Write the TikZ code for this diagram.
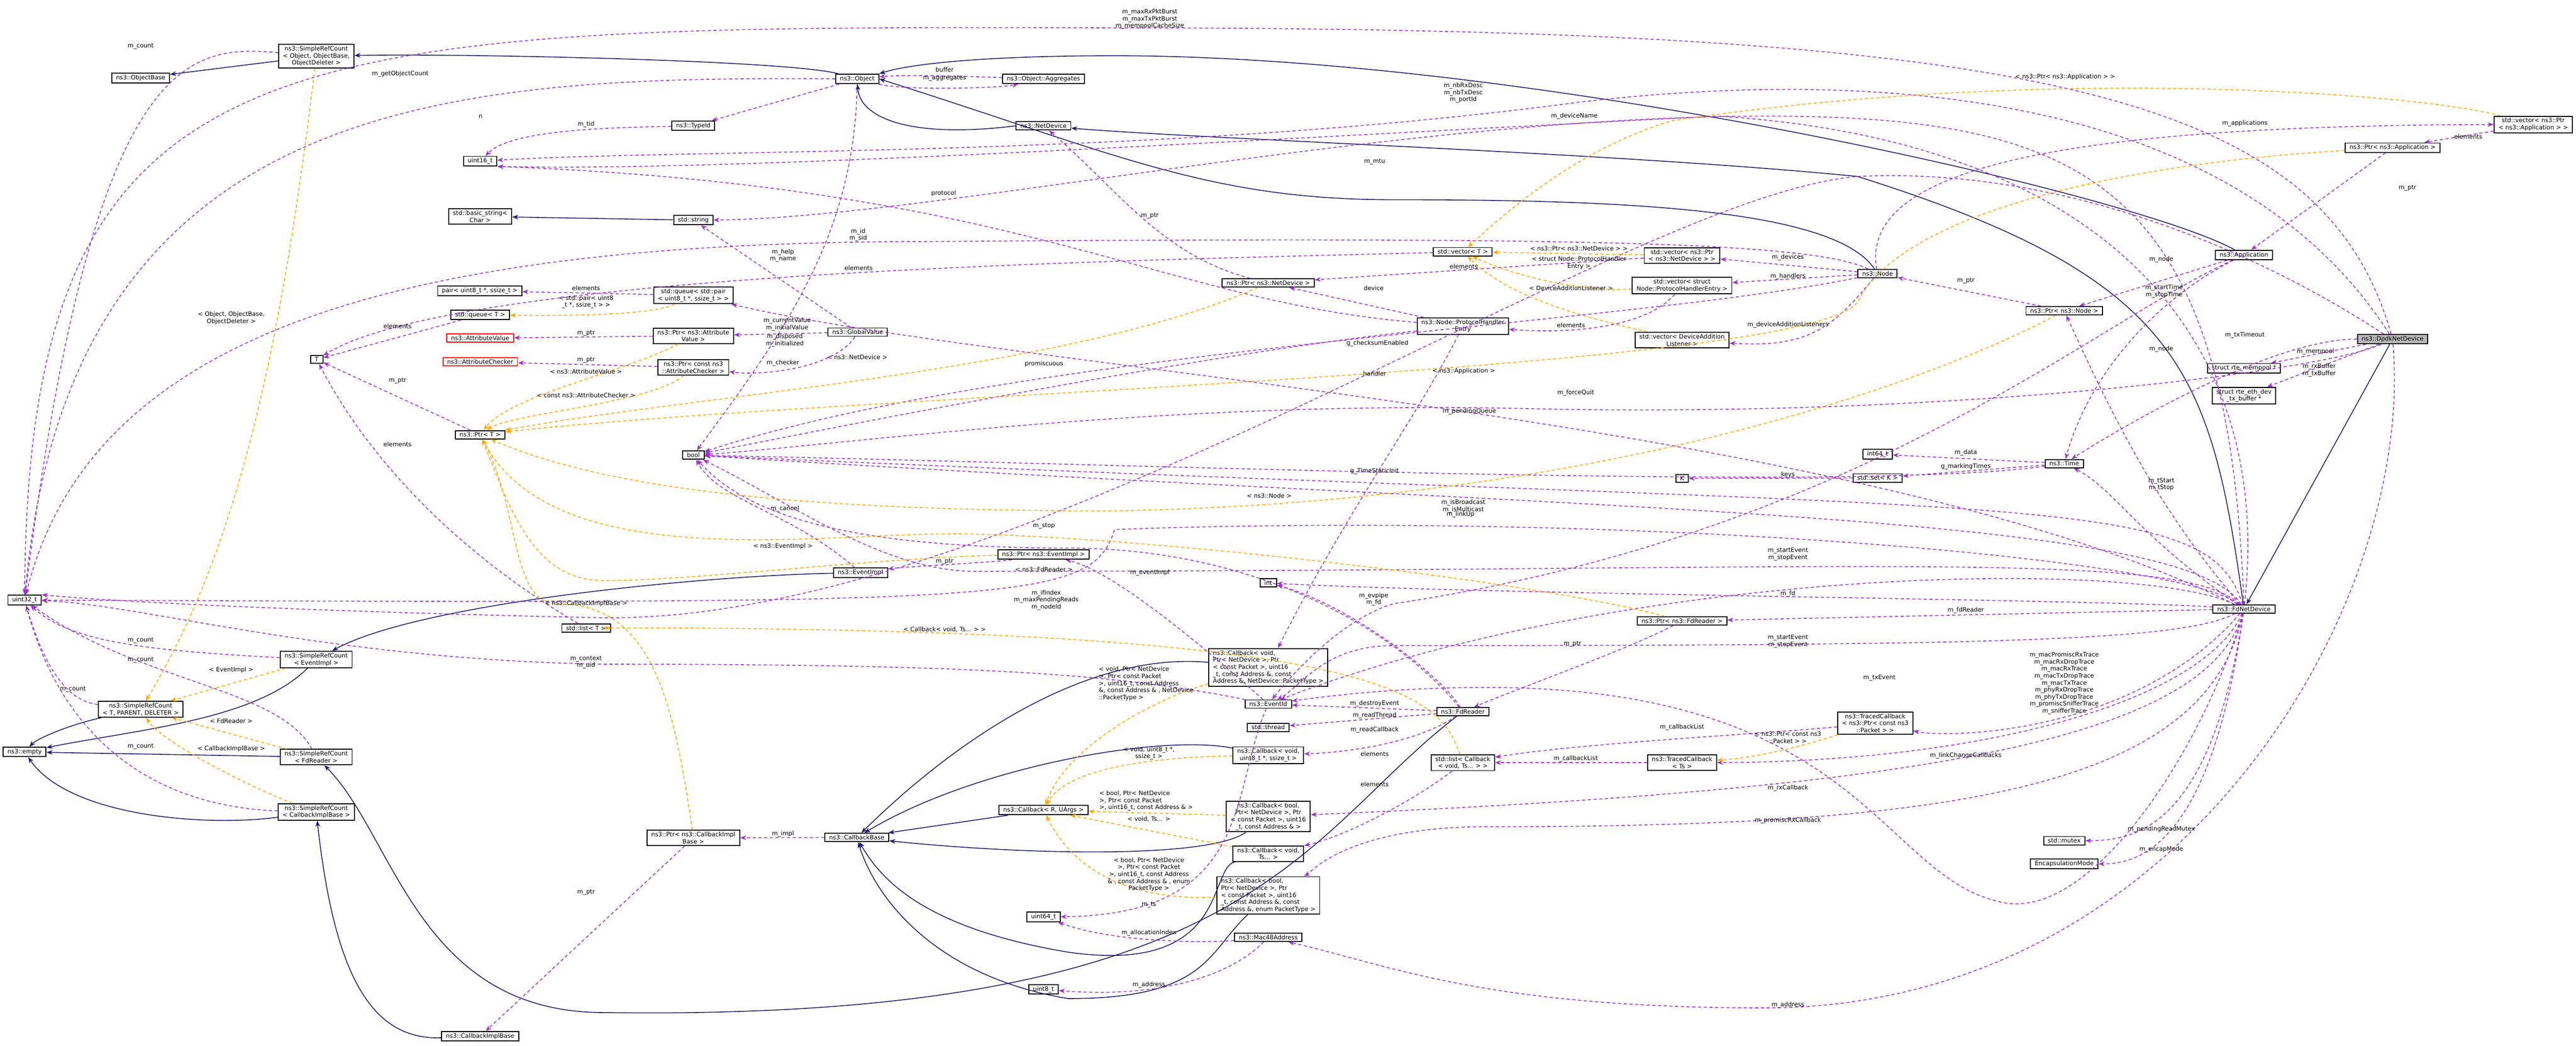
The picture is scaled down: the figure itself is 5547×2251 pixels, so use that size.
\documentclass[tikz,border=0pt]{standalone}
\usepackage{fontspec}
\setmainfont{DejaVu Sans}
\usetikzlibrary{arrows.meta}
\definecolor{pu}{HTML}{9A32CD}
\definecolor{og}{HTML}{FFA500}
\definecolor{nv}{HTML}{191970}
\tikzset{
 box/.style={draw=black,line width=0.6pt,fill=white,inner xsep=2.6pt,inner ysep=1.1pt,align=center,font=\fontsize{3.7}{4.3}\selectfont},
 rbox/.style={box,draw=red},
 gbox/.style={box,fill=black!28},
 lbl/.style={inner sep=0pt,align=center,font=\fontsize{3.7}{4.3}\selectfont},
 inh/.style={draw=nv,line width=0.5pt,-{Stealth[length=1.3mm,width=1mm]}},
 use/.style={draw=pu,line width=0.5pt,dash pattern=on 2pt off 1.5pt,-{Stealth[length=1.3mm,width=1mm]}},
 tmp/.style={draw=og,line width=0.5pt,dash pattern=on 2pt off 1.5pt,-{Stealth[length=1.3mm,width=1mm]}},
}
\begin{document}
\begin{tikzpicture}[x=0.01cm,y=-0.01cm]
\useasboundingbox (0,0) rectangle (5547,2251);
% ---------- nodes
\node[box] (srcobj) at (681,121) {ns3::SimpleRefCount\\< Object, ObjectBase,\\ ObjectDeleter >};
\node[box] (objbase) at (303,168) {ns3::ObjectBase};
\node[box] (object) at (1846,170) {ns3::Object};
\node[box] (aggr) at (2247,170) {ns3::Object::Aggregates};
\node[box] (typeid) at (1493,271) {ns3::TypeId};
\node[box] (netdev) at (2247,271) {ns3::NetDevice};
\node[box] (u16) at (1034,347) {uint16\_t};
\node[box] (bstr) at (1034,466) {std::basic\_string<\\ Char >};
\node[box] (str) at (1493,474) {std::string};
\node[box] (pair) at (1033,626) {pair< uint8\_t *, ssize\_t >};
\node[box] (qpair) at (1493,636) {std::queue< std::pair\\< uint8\_t *, ssize\_t > >};
\node[box] (qT) at (1034,678) {std::queue< T >};
\node[rbox] (attv) at (1034,728) {ns3::AttributeValue};
\node[box] (pattv) at (1493,723) {ns3::Ptr< ns3::Attribute\\Value >};
\node[rbox] (attc) at (1034,779) {ns3::AttributeChecker};
\node[box] (pattc) at (1493,791) {ns3::Ptr< const ns3\\::AttributeChecker >};
\node[box] (glob) at (1847,715) {ns3::GlobalValue};
\node[box] (T) at (682,774) {T};
\node[box] (ptrT) at (1034,936) {ns3::Ptr< T >};
\node[box] (bool) at (1493,980) {bool};
\node[box] (vecT) at (3150,542) {std::vector< T >};
\node[box] (vpnd) at (3622,550) {std::vector< ns3::Ptr\\< ns3::NetDevice > >};
\node[box] (pnd) at (2731,609) {ns3::Ptr< ns3::NetDevice >};
\node[box] (vphe) at (3622,615) {std::vector< struct\\ Node::ProtocolHandlerEntry >};
\node[box] (phe) at (3150,702) {ns3::Node::ProtocolHandler\\Entry};
\node[box] (vdal) at (3622,732) {std::vector< DeviceAddition\\Listener >};
\node[box] (K) at (3622,1030) {K};
\node[box] (vpapp) at (5455,268) {std::vector< ns3::Ptr\\< ns3::Application > >};
\node[box] (papp) at (5152,318) {ns3::Ptr< ns3::Application >};
\node[box] (app) at (4832,549) {ns3::Application};
\node[box] (node) at (4043,589) {ns3::Node};
\node[box] (pnode) at (4445,669) {ns3::Ptr< ns3::Node >};
\node[gbox] (dpdk) at (5152,730) {ns3::DpdkNetDevice};
\node[box] (mempool) at (4832,793) {struct rte\_mempool *};
\node[box] (txbuf) at (4832,852) {struct rte\_eth\_dev\\\_tx\_buffer *};
\node[box] (i64) at (4043,978) {int64\_t};
\node[box] (setK) at (4043,1029) {std::set< K >};
\node[box] (time) at (4445,998) {ns3::Time};
\node[box] (u32) at (53,1292) {uint32\_t};
\node[box] (evimpl) at (1853,1233) {ns3::EventImpl};
\node[box] (listT) at (1262,1352) {std::list< T >};
\node[box] (srcev) at (681,1420) {ns3::SimpleRefCount\\< EventImpl >};
\node[box] (srctpd) at (303,1527) {ns3::SimpleRefCount\\< T, PARENT, DELETER >};
\node[box] (empty) at (53,1619) {ns3::empty};
\node[box] (srcfd) at (681,1630) {ns3::SimpleRefCount\\< FdReader >};
\node[box] (srccib) at (681,1748) {ns3::SimpleRefCount\\< CallbackImplBase >};
\node[box] (pcib) at (1493,1804) {ns3::Ptr< ns3::CallbackImpl\\Base >};
\node[box] (cbase) at (1845,1803) {ns3::CallbackBase};
\node[box] (cib) at (1034,2231) {ns3::CallbackImplBase};
\node[box] (pev) at (2247,1194) {ns3::Ptr< ns3::EventImpl >};
\node[box] (int) at (2731,1255) {int};
\node[box] (pfd) at (3622,1337) {ns3::Ptr< ns3::FdReader >};
\node[box,align=left] (cbrx) at (2731,1437) {ns3::Callback< void,\\ Ptr< NetDevice >, Ptr\\< const Packet >, uint16\\\_t, const Address \&, const\\ Address \&, NetDevice::PacketType >};
\node[box] (evid) at (2731,1516) {ns3::EventId};
\node[box] (fdr) at (3150,1532) {ns3::FdReader};
\node[box] (thr) at (2731,1566) {std::thread};
\node[box] (cbu8) at (2731,1626) {ns3::Callback< void,\\ uint8\_t *, ssize\_t >};
\node[box] (lcb) at (3150,1642) {std::list< Callback\\< void, Ts... > >};
\node[box] (tcts) at (3622,1642) {ns3::TracedCallback\\< Ts >};
\node[box] (cbru) at (2247,1744) {ns3::Callback< R, UArgs >};
\node[box] (cbba) at (2731,1758) {ns3::Callback< bool,\\ Ptr< NetDevice >, Ptr\\< const Packet >, uint16\\\_t, const Address \& >};
\node[box] (cbvts) at (2731,1838) {ns3::Callback< void,\\ Ts... >};
\node[box,align=left] (cbbe) at (2731,1928) {ns3::Callback< bool,\\ Ptr< NetDevice >, Ptr\\< const Packet >, uint16\\\_t, const Address \&, const\\ Address \&, enum PacketType >};
\node[box] (u64) at (2247,1974) {uint64\_t};
\node[box] (mac) at (2731,2018) {ns3::Mac48Address};
\node[box] (u8) at (2247,2130) {uint8\_t};
\node[box] (fdnd) at (4832,1311) {ns3::FdNetDevice};
\node[box] (tcpkt) at (4038,1557) {ns3::TracedCallback\\< ns3::Ptr< const ns3\\::Packet > >};
\node[box] (mutex) at (4445,1810) {std::mutex};
\node[box] (encap) at (4445,1860) {EncapsulationMode};
% ---------- inheritance
\draw[inh] (srcobj) -- (objbase);
\draw[inh] (object) .. controls (1700,130) and (1000,115) .. (srcobj);
\draw[inh] (netdev.west) .. controls (1950,300) and (1850,250) .. (object);
\draw[inh] (node) .. controls (3950,450) and (3500,430) .. (3000,430) .. controls (2600,430) and (2400,330) .. (object.east);
\draw[inh] (app) .. controls (4600,420) and (3300,120) .. (2400,120) .. controls (2100,120) and (1950,140) .. (object.north east);
\draw[inh] (fdnd) .. controls (4760,800) and (4700,600) .. (4000,380) .. controls (3500,330) and (2600,300) .. (netdev);
\draw[inh] (dpdk) -- (fdnd);
\draw[inh] (str) -- (bstr);
\draw[inh] (evimpl) .. controls (1500,1240) and (900,1300) .. (srcev);
\draw[inh] (srcev) .. controls (550,1550) and (300,1570) .. (empty);
\draw[inh] (srctpd) .. controls (150,1560) and (80,1590) .. (empty);
\draw[inh] (srcfd) -- (empty);
\draw[inh] (srccib) .. controls (450,1780) and (150,1760) .. (empty);
\draw[inh] (cib) .. controls (800,2240) and (720,2100) .. (srccib);
\draw[inh] (fdr) .. controls (2800,1800) and (2700,2200) .. (1300,2180) .. controls (900,2180) and (850,1800) .. (srcfd);
\draw[inh] (cbrx) .. controls (2300,1400) and (2000,1650) .. (cbase);
\draw[inh] (cbu8) .. controls (2500,1580) and (2100,1650) .. (cbase);
\draw[inh] (cbru) -- (cbase);
\draw[inh] (cbba) .. controls (2600,1850) and (2200,1840) .. (cbase);
\draw[inh] (cbvts) .. controls (2600,1870) and (2650,2100) .. (2300,2050) .. controls (2000,2000) and (1900,1900) .. (cbase);
\draw[inh] (cbbe) .. controls (2600,2050) and (2600,2150) .. (2300,2150) .. controls (2000,2100) and (1880,1920) .. (cbase);
% ---------- usage (purple)
\draw[use] (srcobj) .. controls (400,95) and (200,120) .. (u32);
\draw[use] (object) .. controls (1000,165) and (150,190) .. (u32);
\draw[use] (dpdk) .. controls (5000,200) and (4400,60) .. (2400,60) .. controls (600,55) and (60,60) .. (u32);
\draw[use] (object) -- (typeid);
\draw[use] (typeid) .. controls (1300,275) and (1100,280) .. (u16);
\draw[use] (aggr) .. controls (2100,165) and (1950,160) .. (object);
\draw[use] (object) .. controls (1950,195) and (2150,190) .. (aggr);
\draw[use] (dpdk) .. controls (4800,180) and (4000,150) .. (3400,220) .. controls (2500,340) and (1500,320) .. (u16);
\draw[use] (fdnd) .. controls (4900,700) and (4500,300) .. (3700,250) .. controls (2700,300) and (1600,370) .. (u16.south east);
\draw[use] (fdnd) .. controls (4800,400) and (4500,250) .. (3800,250) .. controls (3000,250) and (2000,470) .. (str);
\draw[use] (glob) -- (str);
\draw[use] (node) .. controls (3900,520) and (3400,510) .. (2000,520) .. controls (900,520) and (200,700) .. (u32);
\draw[use] (vecT) .. controls (2500,560) and (1000,580) .. (T);
\draw[use] (qpair) -- (pair);
\draw[use] (qT) -- (T);
\draw[use] (pattv) -- (attv);
\draw[use] (pattc) -- (attc);
\draw[use] (glob) -- (pattv);
\draw[use] (glob) .. controls (1800,790) and (1650,810) .. (pattc);
\draw[use] (ptrT) -- (T);
\draw[use] (object) .. controls (1840,500) and (1700,700) .. (bool);
\draw[use] (evimpl) .. controls (1700,1100) and (1550,1080) .. (bool);
\draw[use] (listT) .. controls (1000,1200) and (800,1000) .. (T);
\draw[use] (fdnd) .. controls (4000,900) and (2200,800) .. (qpair);
\draw[use] (phe) -- (pnd);
\draw[use] (phe) .. controls (2500,650) and (2200,400) .. (u16.south east);
\draw[use] (phe) .. controls (3050,900) and (2900,1100) .. (cbrx);
\draw[use] (pnd) .. controls (2500,550) and (2400,400) .. (netdev);
\draw[use] (vpnd) -- (pnd);
\draw[use] (vphe) .. controls (3550,700) and (3400,720) .. (phe);
\draw[use] (node) -- (vpnd);
\draw[use] (node) -- (vphe);
\draw[use] (node) .. controls (3950,700) and (3900,750) .. (vdal);
\draw[use] (node) .. controls (4000,350) and (4500,270) .. (vpapp);
\draw[use] (vpapp) -- (papp);
\draw[use] (papp) -- (app);
\draw[use] (app) -- (pnode);
\draw[use] (app) .. controls (4650,640) and (4500,800) .. (time);
\draw[use] (pnode) -- (node);
\draw[use] (fdnd) .. controls (4650,1100) and (4550,900) .. (pnode);
\draw[use] (dpdk) .. controls (4900,730) and (4600,900) .. (time);
\draw[use] (dpdk) -- (mempool);
\draw[use] (dpdk) -- (txbuf);
\draw[use] (time) -- (i64);
\draw[use] (time) -- (setK);
\draw[use] (setK) -- (K);
\draw[use] (time) .. controls (4000,1060) and (2500,1000) .. (bool);
\draw[use] (fdnd) .. controls (4600,1150) and (4550,1050) .. (time);
\draw[use] (fdnd) .. controls (4700,1100) and (3400,1100) .. (bool);
\draw[use] (node) .. controls (3500,700) and (2200,750) .. (bool);
\draw[use] (dpdk) .. controls (5000,800) and (4200,900) .. (3300,880) .. controls (2500,860) and (1800,960) .. (bool);
\draw[use] (phe) .. controls (2600,760) and (1800,920) .. (bool);
\draw[use] (fdnd) .. controls (4700,1180) and (4000,1230) .. (2100,1230) .. controls (1900,1230) and (1700,1080) .. (bool);
\draw[use] (app) .. controls (4500,700) and (4000,1150) .. (3000,1300) .. controls (2900,1330) and (2800,1430) .. (evid);
\draw[use] (fdnd) .. controls (4600,1200) and (3500,1220) .. (evid);
\draw[use] (fdnd) .. controls (4500,1290) and (3200,1280) .. (int);
\draw[use] (fdnd) -- (pfd);
\draw[use] (fdnd) .. controls (4700,1380) and (4300,1390) .. (3000,1390) .. controls (2850,1390) and (2800,1480) .. (evid);
\draw[use] (fdnd) .. controls (4600,1580) and (4200,1590) .. (tcpkt);
\draw[use] (fdnd) .. controls (4750,1500) and (4300,1640) .. (tcts);
\draw[use] (fdnd) .. controls (4750,1600) and (4100,1700) .. (cbba);
\draw[use] (fdnd) .. controls (4750,1700) and (4200,1780) .. (3200,1780) .. controls (2900,1780) and (2820,1880) .. (cbbe);
\draw[use] (fdnd) .. controls (4760,1780) and (4600,1810) .. (mutex);
\draw[use] (fdnd) .. controls (4760,1830) and (4600,1860) .. (encap);
\draw[use] (fdnd) .. controls (4750,1600) and (4500,2000) .. (4300,1940) .. controls (4050,1880) and (4000,1480) .. (3200,1480) .. controls (3000,1480) and (2850,1500) .. (evid);
\draw[use] (dpdk) .. controls (5200,1300) and (4700,2170) .. (3800,2170) .. controls (3200,2170) and (3000,2080) .. (mac);
\draw[use] (fdnd) .. controls (4700,1200) and (3500,1100) .. (2400,1140) .. controls (2350,1300) and (2200,1300) .. (u32);
\draw[use] (fdnd) .. controls (4750,1050) and (4400,1110) .. (bool);
\draw[use] (pfd) .. controls (3500,1400) and (3300,1470) .. (fdr);
\draw[use] (fdr) .. controls (3100,1450) and (2900,1300) .. (int);
\draw[use] (fdr) -- (evid);
\draw[use] (fdr) -- (thr);
\draw[use] (fdr) .. controls (3050,1600) and (2900,1620) .. (cbu8);
\draw[use] (fdr) .. controls (3000,1350) and (2700,1180) .. (2300,1180) .. controls (1800,1180) and (1600,1100) .. (bool);
\draw[use] (evid) .. controls (2600,1400) and (2400,1230) .. (pev);
\draw[use] (evid) .. controls (2400,1450) and (2100,1430) .. (1300,1430) .. controls (700,1420) and (300,1300) .. (u32);
\draw[use] (evid) .. controls (2650,1700) and (2700,1970) .. (u64);
\draw[use] (pev) .. controls (2150,1210) and (1950,1220) .. (evimpl);
\draw[use] (cbase) -- (pcib);
\draw[use] (pcib) -- (cib);
\draw[use] (tcts) -- (lcb);
\draw[use] (tcpkt) .. controls (3800,1580) and (3400,1600) .. (lcb);
\draw[use] (lcb) .. controls (3050,1720) and (2900,1800) .. (cbvts);
\draw[use] (mac) .. controls (2600,2030) and (2400,2030) .. (u64);
\draw[use] (mac) .. controls (2650,2100) and (2500,2150) .. (u8);
\draw[use] (srcev) .. controls (300,1400) and (150,1380) .. (u32);
\draw[use] (srctpd) .. controls (150,1510) and (100,1450) .. (u32);
\draw[use] (srcfd) .. controls (600,1480) and (300,1470) .. (u32);
\draw[use] (srccib) .. controls (400,1740) and (150,1650) .. (u32);
\draw[use] (dpdk) .. controls (5100,700) and (4600,350) .. (4000,380) .. controls (3500,420) and (2200,1340) .. (1300,1330) .. controls (800,1320) and (300,1300) .. (u32.north east);
% ---------- template (orange)
\draw[tmp] (qpair) .. controls (1400,680) and (1200,680) .. (qT);
\draw[tmp] (pattv) .. controls (1350,800) and (1100,850) .. (ptrT);
\draw[tmp] (pattc) .. controls (1400,870) and (1100,890) .. (ptrT);
\draw[tmp] (pnd) .. controls (2300,800) and (1500,850) .. (ptrT);
\draw[tmp] (vpnd) -- (vecT);
\draw[tmp] (vphe) .. controls (3400,630) and (3250,590) .. (vecT);
\draw[tmp] (vdal) .. controls (3400,680) and (3250,640) .. (vecT);
\draw[tmp] (vpapp) .. controls (5200,200) and (4400,140) .. (3600,260) .. controls (3400,320) and (3250,450) .. (vecT);
\draw[tmp] (papp) .. controls (4600,350) and (4100,450) .. (4000,650) .. controls (3900,800) and (1800,850) .. (ptrT);
\draw[tmp] (pnode) .. controls (4200,800) and (3500,1080) .. (2400,1100) .. controls (1700,1100) and (1300,1050) .. (ptrT);
\draw[tmp] (pfd) .. controls (3300,1250) and (2500,1160) .. (2100,1150) .. controls (1800,1140) and (1200,1250) .. (ptrT);
\draw[tmp] (pev) .. controls (1900,1200) and (1500,1250) .. (1300,1250) .. controls (1150,1250) and (1100,1100) .. (ptrT);
\draw[tmp] (pcib) .. controls (1450,1500) and (1400,1300) .. (1200,1300) .. controls (1100,1300) and (1120,1100) .. (ptrT);
\draw[tmp] (lcb) .. controls (3100,1500) and (3000,1350) .. (1300,1352) -- (listT);
\draw[tmp] (srcobj) .. controls (600,800) and (500,1200) .. (srctpd);
\draw[tmp] (srcev) -- (srctpd);
\draw[tmp] (srcfd) -- (srctpd);
\draw[tmp] (srccib) .. controls (550,1700) and (350,1600) .. (srctpd);
\draw[tmp] (tcpkt) .. controls (3900,1600) and (3800,1630) .. (tcts);
\draw[tmp] (cbrx) .. controls (2500,1500) and (2300,1600) .. (cbru);
\draw[tmp] (cbu8) .. controls (2500,1630) and (2300,1650) .. (cbru);
\draw[tmp] (cbba) -- (cbru);
\draw[tmp] (cbvts) -- (cbru);
\draw[tmp] (cbbe) .. controls (2400,1940) and (2300,1850) .. (cbru);
% ---------- labels
\node[lbl] at (2476,41) {m\_maxRxPktBurst\\m\_maxTxPktBurst\\m\_mempoolCacheSize};
\node[lbl] at (303,100) {m\_count};
\node[lbl] at (862,159) {m\_getObjectCount};
\node[lbl] at (2034,150) {buffer};
\node[lbl] at (2034,168) {m\_aggregates};
\node[lbl] at (1262,268) {m\_tid};
\node[lbl] at (1035,251) {n};
\node[lbl] at (3151,200) {m\_nbRxDesc\\m\_nbTxDesc\\m\_portId};
\node[lbl] at (3390,250) {m\_deviceName};
\node[lbl] at (2960,348) {m\_mtu};
\node[lbl] at (2032,416) {protocol};
\node[lbl] at (2476,465) {m\_ptr};
\node[lbl] at (4447,166) {< ns3::Ptr< ns3::Application > >};
\node[lbl] at (4834,266) {m\_applications};
\node[lbl] at (5315,294) {elements};
\node[lbl] at (5184,405) {m\_ptr};
\node[lbl] at (1848,506) {m\_id\\m\_sid};
\node[lbl] at (1686,550) {m\_help\\m\_name};
\node[lbl] at (1849,577) {elements};
\node[lbl] at (3400,535) {< ns3::Ptr< ns3::NetDevice > >};
\node[lbl] at (3400,566) {< struct Node::ProtocolHandler\\Entry >};
\node[lbl] at (3152,574) {elements};
\node[lbl] at (3850,554) {m\_devices};
\node[lbl] at (4654,559) {m\_node};
\node[lbl] at (3850,595) {m\_handlers};
\node[lbl] at (4233,604) {m\_ptr};
\node[lbl] at (2958,620) {device};
\node[lbl] at (3383,620) {< DeviceAdditionListener >};
\node[lbl] at (1262,620) {elements};
\node[lbl] at (1262,650) {< std::pair< uint8\\\_t *, ssize\_t > >};
\node[lbl] at (4660,627) {m\_startTime\\m\_stopTime};
\node[lbl] at (1695,698) {m\_currentValue\\m\_initialValue};
\node[lbl] at (3383,700) {elements};
\node[lbl] at (856,702) {elements};
\node[lbl] at (3850,699) {m\_deviceAdditionListeners};
\node[lbl] at (1262,717) {m\_ptr};
\node[lbl] at (4834,722) {m\_txTimeout};
\node[lbl] at (1690,733) {m\_disposed\\m\_initialized};
\node[lbl] at (2966,739) {g\_checksumEnabled};
\node[lbl] at (4654,751) {m\_node};
\node[lbl] at (4986,757) {m\_mempool};
\node[lbl] at (1846,769) {< ns3::NetDevice >};
\node[lbl] at (1262,775) {m\_ptr};
\node[lbl] at (1686,782) {m\_checker};
\node[lbl] at (2248,783) {promiscuous};
\node[lbl] at (4994,797) {m\_rxBuffer\\m\_txBuffer};
\node[lbl] at (3152,799) {< ns3::Application >};
\node[lbl] at (1262,800) {< ns3::AttributeValue >};
\node[lbl] at (2960,804) {handler};
\node[lbl] at (856,820) {m\_ptr};
\node[lbl] at (3393,846) {m\_forceQuit};
\node[lbl] at (1262,851) {< const ns3::AttributeChecker >};
\node[lbl] at (3164,886) {m\_pendingQueue};
\node[lbl] at (856,956) {elements};
\node[lbl] at (4233,975) {m\_data};
\node[lbl] at (4233,1004) {g\_markingTimes};
\node[lbl] at (2960,1014) {g\_TimeStaticInit};
\node[lbl] at (3850,1022) {keys};
\node[lbl] at (4654,1043) {m\_tStart\\m\_tStop};
\node[lbl] at (498,685) {< Object, ObjectBase,\\ObjectDeleter >};
\node[lbl] at (2733,1067) {< ns3::Node >};
\node[lbl] at (1690,1095) {m\_cancel};
\node[lbl] at (3151,1090) {m\_isBroadcast\\m\_isMulticast};
\node[lbl] at (3145,1108) {m\_linkUp};
\node[lbl] at (2248,1132) {m\_stop};
\node[lbl] at (1686,1176) {< ns3::EventImpl >};
\node[lbl] at (3850,1193) {m\_startEvent\\m\_stopEvent};
\node[lbl] at (2034,1209) {m\_ptr};
\node[lbl] at (2248,1226) {< ns3::FdReader >};
\node[lbl] at (2476,1233) {m\_eventImpl};
\node[lbl] at (3850,1278) {m\_fd};
\node[lbl] at (2958,1290) {m\_evpipe\\m\_fd};
\node[lbl] at (2253,1292) {m\_ifIndex\\m\_maxPendingReads\\m\_nodeId};
\node[lbl] at (1262,1299) {< ns3::CallbackImplBase >};
\node[lbl] at (4233,1314) {m\_fdReader};
\node[lbl] at (2034,1355) {< Callback< void, Ts... > >};
\node[lbl] at (303,1379) {m\_count};
\node[lbl] at (3850,1381) {m\_startEvent\\m\_stopEvent};
\node[lbl] at (3386,1386) {m\_ptr};
\node[lbl] at (303,1421) {m\_count};
\node[lbl] at (1262,1426) {m\_context\\m\_uid};
\node[lbl] at (498,1443) {< EventImpl >};
\node[lbl] at (4047,1460) {m\_txEvent};
\node[lbl] at (4445,1471) {m\_macPromiscRxTrace\\m\_macRxDropTrace\\m\_macRxTrace\\m\_macTxDropTrace\\m\_macTxTrace\\m\_phyRxDropTrace\\m\_phyTxDropTrace\\m\_promiscSnifferTrace\\m\_snifferTrace};
\node[lbl,align=left] at (2468,1472) {< void, Ptr< NetDevice\\>, Ptr< const Packet\\>, uint16\_t, const Address\\\&, const Address \& , NetDevice\\::PacketType >};
\node[lbl] at (157,1484) {m\_count};
\node[lbl] at (2960,1515) {m\_destroyEvent};
\node[lbl] at (2960,1540) {m\_readThread};
\node[lbl] at (498,1552) {< FdReader >};
\node[lbl] at (3622,1566) {m\_callbackList};
\node[lbl] at (2960,1571) {m\_readCallback};
\node[lbl] at (3850,1588) {< ns3::Ptr< const ns3\\::Packet > >};
\node[lbl] at (303,1607) {m\_count};
\node[lbl] at (498,1612) {< CallbackImplBase >};
\node[lbl] at (2474,1622) {< void, uint8\_t *,\\ssize\_t >};
\node[lbl] at (2960,1623) {elements};
\node[lbl] at (4233,1627) {m\_linkChangeCallbacks};
\node[lbl] at (3393,1634) {m\_callbackList};
\node[lbl] at (2960,1689) {elements};
\node[lbl] at (3850,1697) {m\_rxCallback};
\node[lbl,align=left] at (2468,1724) {< bool, Ptr< NetDevice\\>, Ptr< const Packet\\>, uint16\_t, const Address \& >};
\node[lbl] at (2474,1764) {< void, Ts... >};
\node[lbl] at (3850,1767) {m\_promiscRxCallback};
\node[lbl] at (4654,1785) {m\_pendingReadMutex};
\node[lbl] at (1686,1796) {m\_impl};
\node[lbl] at (4654,1829) {m\_encapMode};
\node[lbl] at (2474,1883) {< bool, Ptr< NetDevice\\>, Ptr< const Packet\\>, uint16\_t, const Address\\\& , const Address \& , enum\\PacketType >};
\node[lbl] at (1262,1921) {m\_ptr};
\node[lbl] at (2474,1948) {m\_ts};
\node[lbl] at (2474,2008) {m\_allocationIndex};
\node[lbl] at (2474,2120) {m\_address};
\node[lbl] at (3850,2164) {m\_address};
\end{tikzpicture}
\end{document}
